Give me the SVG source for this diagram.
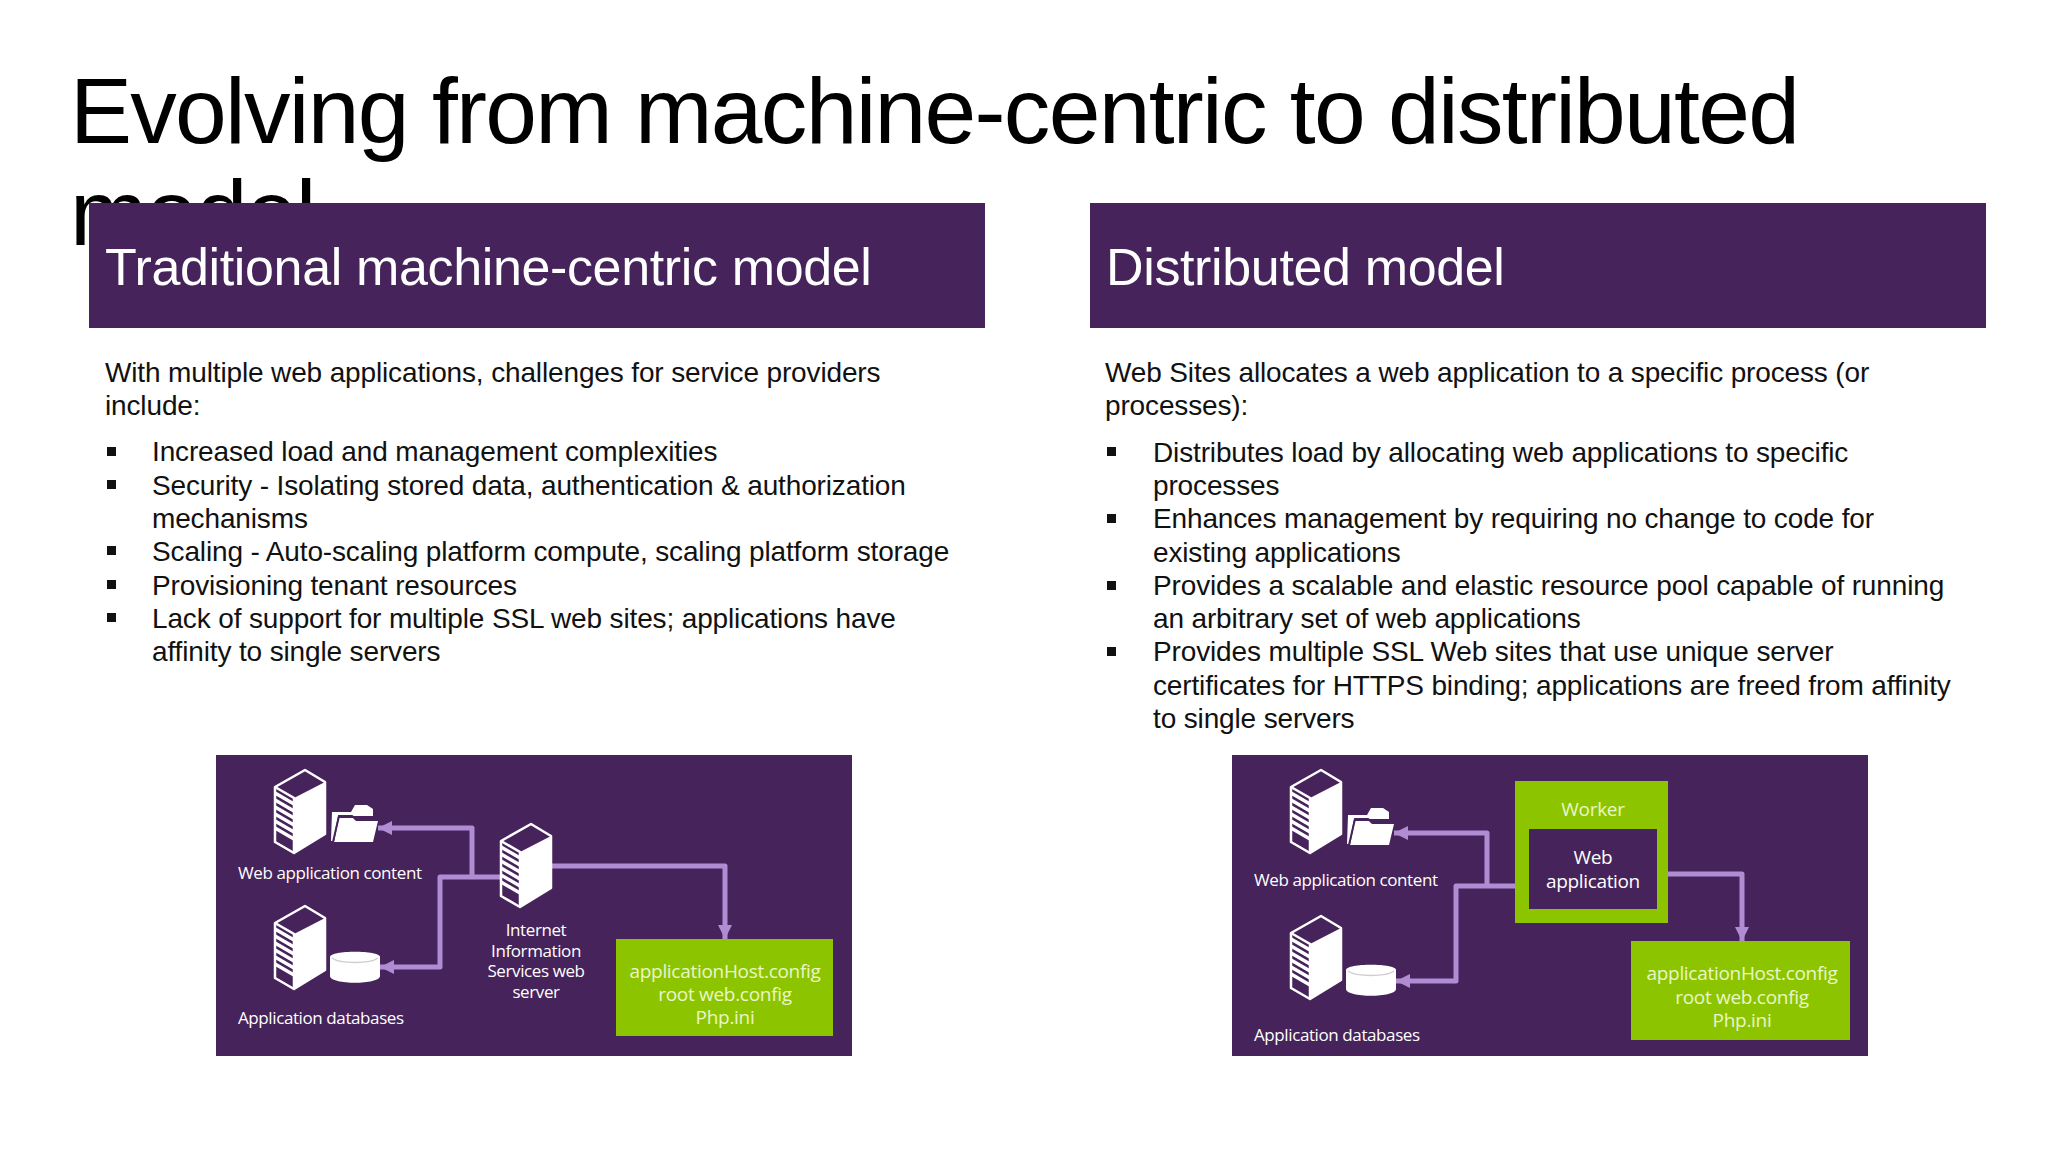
<svg xmlns="http://www.w3.org/2000/svg" width="2048" height="1152" viewBox="0 0 2048 1152">
<style>
.t{font-family:"Liberation Sans",Arial,sans-serif}
.title{font-size:93px;letter-spacing:-1.72px;fill:#000}
.head{font-size:52px;letter-spacing:-0.36px;fill:#fff}
.body{font-size:28px;letter-spacing:-0.14px;fill:#111}
.d{font-family:"Open Sans","Noto Sans",sans-serif;font-size:17px;letter-spacing:-0.4px;fill:#fff}
.w{font-size:19px;letter-spacing:-0.35px}
.g{font-family:"Open Sans","Noto Sans",sans-serif;font-size:19px;letter-spacing:-0.3px;fill:#eaf6c8;text-anchor:middle}
.m{text-anchor:middle}
.purple{fill:#46235a}
.green{fill:#8cc500}
.conn{fill:none;stroke:#b08dd3;stroke-width:5;stroke-linejoin:round}
</style>
<defs>
<marker id="arr" markerUnits="userSpaceOnUse" markerWidth="16" markerHeight="16" refX="14" refY="7" orient="auto"><path d="M0 0L14 7L0 14Z" fill="#b08dd3"/></marker>
<symbol id="server" width="56" height="88" viewBox="0 0 56 88" overflow="visible">
<path d="M31 1L51 13L51 65L20 84L1 73L1 18Z" fill="#46235a" stroke="#fff" stroke-width="2.5" stroke-linejoin="round"/>
<path d="M20 29L51 13L51 65L20 84Z" fill="#fff"/>
<path d="M1 18L20 29L20 84" fill="none" stroke="#fff" stroke-width="2.5"/>
<path d="M1 24L20 35M1 31L20 42M1 38L20 49M1 45L20 56M1 52L20 63M1 59L20 70" fill="none" stroke="#fff" stroke-width="3.5"/>
</symbol>
<symbol id="folder" width="50" height="42" viewBox="0 0 50 42" overflow="visible">
<path d="M1 8L20 8L24 1L36 1L42 5L42 12L7 12L2 37L0 37Z" fill="#fff"/>
<path d="M9 38L3 38L8 14L22 14L25 17L47 17L42 38Z" fill="#fff"/>
<path d="M2 38L8 12L21 12L25 15L47 15" fill="none" stroke="#46235a" stroke-width="2"/>
</symbol>
<symbol id="cyl" width="50" height="34" viewBox="0 0 50 34" overflow="visible">
<path d="M0 7C0 0 50 0 50 7L50 26C50 35 0 35 0 26Z" fill="#fff"/>
<path d="M2 8C10 14 40 14 48 8" fill="none" stroke="#cfcfcf" stroke-width="1.5"/>
</symbol>
</defs>
<rect width="2048" height="1152" fill="#fff"/>
<g id="title"><text class="t title" x="70" y="143">Evolving from machine-centric to distributed</text><text class="t title" x="70" y="245">model</text></g>

<g id="left-header"><rect class="purple" x="89" y="203" width="896" height="125"/><text class="t head" x="105" y="285">Traditional machine-centric model</text></g>
<g id="right-header"><rect class="purple" x="1090" y="203" width="896" height="125"/><text class="t head" x="1106" y="285">Distributed model</text></g>

<g id="left-text" class="t body">
<text x="105" y="382">With multiple web applications, challenges for service providers</text>
<text x="105" y="415">include:</text>
<rect x="107" y="447" width="9" height="9" fill="#111"/><text x="152" y="461">Increased load and management complexities</text>
<rect x="107" y="480" width="9" height="9" fill="#111"/><text x="152" y="495">Security - Isolating stored data, authentication &amp; authorization</text>
<text x="152" y="528">mechanisms</text>
<rect x="107" y="546" width="9" height="9" fill="#111"/><text x="152" y="561">Scaling - Auto-scaling platform compute, scaling platform storage</text>
<rect x="107" y="580" width="9" height="9" fill="#111"/><text x="152" y="595">Provisioning tenant resources</text>
<rect x="107" y="613" width="9" height="9" fill="#111"/><text x="152" y="628">Lack of support for multiple SSL web sites; applications have</text>
<text x="152" y="661">affinity to single servers</text>
</g>
<g id="right-text" class="t body">
<text x="1105" y="382">Web Sites allocates a web application to a specific process (or</text>
<text x="1105" y="415">processes):</text>
<rect x="1107" y="447" width="9" height="9" fill="#111"/><text x="1153" y="462">Distributes load by allocating web applications to specific</text>
<text x="1153" y="495">processes</text>
<rect x="1107" y="514" width="9" height="9" fill="#111"/><text x="1153" y="528">Enhances management by requiring no change to code for</text>
<text x="1153" y="562">existing applications</text>
<rect x="1107" y="581" width="9" height="9" fill="#111"/><text x="1153" y="595">Provides a scalable and elastic resource pool capable of running</text>
<text x="1153" y="628">an arbitrary set of web applications</text>
<rect x="1107" y="647" width="9" height="9" fill="#111"/><text x="1153" y="661">Provides multiple SSL Web sites that use unique server</text>
<text x="1153" y="695">certificates for HTTPS binding; applications are freed from affinity</text>
<text x="1153" y="728">to single servers</text>
</g>

<g id="left-panel"><rect class="purple" x="216" y="755" width="636" height="301"/></g>
<g id="right-panel"><rect class="purple" x="1232" y="755" width="636" height="301"/></g>

<g id="connectors">
<path class="conn" d="M472 877V828H378" marker-end="url(#arr)"/>
<path class="conn" d="M502 877H440V967H380" marker-end="url(#arr)"/>
<path class="conn" d="M552 866H725V939" marker-end="url(#arr)"/>
<path class="conn" d="M1487 886V833H1394" marker-end="url(#arr)"/>
<path class="conn" d="M1515 886H1456V981H1396" marker-end="url(#arr)"/>
<path class="conn" d="M1668 874H1742V941" marker-end="url(#arr)"/>
</g>

<g id="l-content"><use href="#server" x="274" y="769"/><use href="#folder" x="331" y="804"/><text class="d" x="238" y="879">Web application content</text></g>
<g id="l-db"><use href="#server" x="274" y="905"/><use href="#cyl" x="330" y="950"/><text class="d" x="238" y="1024">Application databases</text></g>
<g id="l-iis"><use href="#server" x="500" y="823"/>
<text class="d m" x="536" y="936">Internet</text><text class="d m" x="536" y="957">Information</text><text class="d m" x="536" y="977">Services web</text><text class="d m" x="536" y="998">server</text></g>
<g id="l-config"><rect class="green" x="616" y="939" width="217" height="97"/>
<text class="g" x="725" y="978">applicationHost.config</text><text class="g" x="725" y="1001">root web.config</text><text class="g" x="725" y="1024">Php.ini</text></g>

<g id="r-content"><use href="#server" x="1290" y="769"/><use href="#folder" x="1347" y="807"/><text class="d" x="1254" y="886">Web application content</text></g>
<g id="r-db"><use href="#server" x="1290" y="915"/><use href="#cyl" x="1346" y="963"/><text class="d" x="1254" y="1041">Application databases</text></g>
<g id="r-worker"><rect class="green" x="1515" y="781" width="153" height="142"/><rect class="purple" x="1529" y="829" width="128" height="80"/>
<text class="g" x="1593" y="816">Worker</text><text class="d m w" x="1593" y="864">Web</text><text class="d m w" x="1593" y="888">application</text></g>
<g id="r-config"><rect class="green" x="1631" y="941" width="219" height="99"/>
<text class="g" x="1742" y="980">applicationHost.config</text><text class="g" x="1742" y="1004">root web.config</text><text class="g" x="1742" y="1027">Php.ini</text></g>
</svg>
